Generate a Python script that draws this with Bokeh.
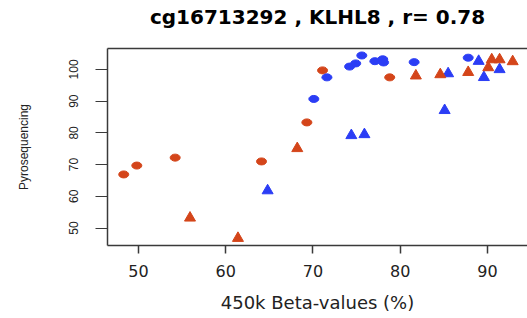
from bokeh.plotting import figure
from bokeh.models import FixedTicker, LinearAxis, Range1d, ColumnDataSource
from bokeh.embed import file_html
from bokeh.resources import INLINE

# ---- data ----
title_text = "cg16713292 , KLHL8 , r= 0.78"
x_label = "450k Beta-values (%)"
y_label = "Pyrosequencing"
x_ticks = [50, 60, 70, 80, 90]
y_ticks = [50, 60, 70, 80, 90, 100]

orange_circle_x = [48.3, 49.8, 54.2, 64.1, 69.3, 71.1, 78.8]
orange_circle_y = [66.9, 69.7, 72.2, 71.0, 83.3, 99.7, 97.5]

blue_circle_x = [70.1, 71.6, 74.2, 74.9, 75.6, 77.1, 78.0, 78.1, 81.6, 87.8]
blue_circle_y = [90.7, 97.5, 100.9, 101.9, 104.4, 102.6, 103.2, 102.2, 102.3, 103.7]

blue_tri_x = [64.8, 74.4, 75.9, 85.1, 85.5, 89.0, 89.6, 91.4]
blue_tri_y = [61.8, 79.2, 79.5, 87.1, 98.7, 102.6, 97.5, 100.0]

orange_tri_x = [55.9, 61.4, 68.2, 81.8, 84.6, 87.8, 90.1, 90.5, 91.4, 92.9]
orange_tri_y = [53.2, 46.8, 75.1, 98.0, 98.4, 99.1, 100.6, 103.1, 103.1, 102.5]

ORANGE = "#D4451A"
BLUE = "#2B3DF5"
LINE = "#3a3a3a"

p = figure(width=527, height=318, output_backend="svg", toolbar_location=None,
           x_range=Range1d(46.44, 94.6), y_range=Range1d(44.5, 106.6),
           min_border_left=107, min_border_right=0, min_border_top=48,
           min_border_bottom=73, background_fill_color="white",
           border_fill_color="white")
p.outline_line_color = None
p.grid.visible = False

# x axis
xa = p.xaxis[0]
xa.ticker = FixedTicker(ticks=x_ticks)
xa.minor_tick_line_color = None
xa.major_tick_in = 0
xa.major_tick_out = 8
xa.major_tick_line_color = LINE
xa.major_tick_line_width = 1.5
xa.axis_line_color = LINE
xa.axis_line_width = 1.5
xa.major_label_text_font = "DejaVu Sans"
xa.major_label_text_font_size = "16px"
xa.major_label_text_color = "#222222"
xa.major_label_standoff = 11
xa.axis_label = x_label
xa.axis_label_text_font = "DejaVu Sans"
xa.axis_label_text_font_size = "18px"
xa.axis_label_text_font_style = "normal"
xa.axis_label_text_color = "#222222"
xa.axis_label_standoff = 12

# y axis
ya = p.yaxis[0]
ya.ticker = FixedTicker(ticks=y_ticks)
ya.minor_tick_line_color = None
ya.major_tick_in = 0
ya.major_tick_out = 12
ya.major_tick_line_color = LINE
ya.major_tick_line_width = 1.2
ya.axis_line_color = LINE
ya.axis_line_width = 1.5
ya.major_label_orientation = "vertical"
ya.major_label_text_font = "Liberation Sans"
ya.major_label_text_font_size = "12px"
ya.major_label_text_color = "#222222"
ya.major_label_standoff = 17
ya.axis_label = y_label
ya.axis_label_text_font = "Liberation Sans"
ya.axis_label_text_font_size = "12px"
ya.axis_label_text_font_style = "normal"
ya.axis_label_text_color = "#222222"
ya.axis_label_standoff = 36

# top border line of the plot box; the chart title is its label
top = LinearAxis(ticker=FixedTicker(ticks=[]), major_tick_line_color=None,
                 minor_tick_line_color=None, major_label_text_font_size="0px",
                 axis_line_color=LINE, axis_line_width=1.5,
                 axis_label=title_text, axis_label_text_font="DejaVu Sans",
                 axis_label_text_font_style="bold",
                 axis_label_text_font_size="20px",
                 axis_label_text_color="black", axis_label_standoff=20)
p.add_layout(top, "above")

oc = ColumnDataSource(dict(x=orange_circle_x, y=orange_circle_y))
bc = ColumnDataSource(dict(x=blue_circle_x, y=blue_circle_y))
bt = ColumnDataSource(dict(x=blue_tri_x, y=blue_tri_y))
ot = ColumnDataSource(dict(x=orange_tri_x, y=orange_tri_y))

p.ellipse(x="x", y="y", width=10, height=7, width_units="screen",
          height_units="screen", source=oc, fill_color=ORANGE, line_color=ORANGE)
p.ellipse(x="x", y="y", width=10, height=7, width_units="screen",
          height_units="screen", source=bc, fill_color=BLUE, line_color=BLUE)
p.scatter(x="x", y="y", marker="triangle", size=11, source=bt,
          fill_color=BLUE, line_color=BLUE)
p.scatter(x="x", y="y", marker="triangle", size=11, source=ot,
          fill_color=ORANGE, line_color=ORANGE)

open("out.html", "w").write(file_html(p, INLINE))
